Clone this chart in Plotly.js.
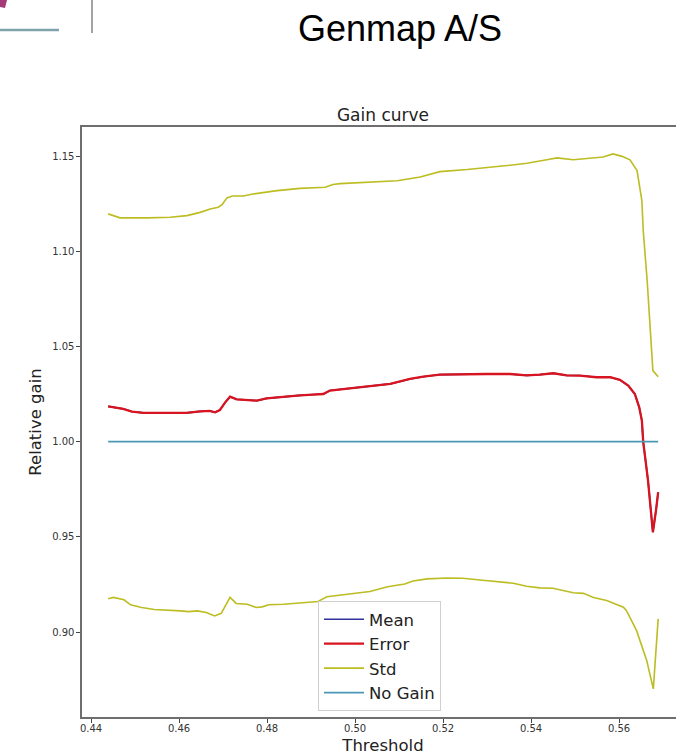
<!DOCTYPE html>
<html>
<head>
<meta charset="utf-8">
<script src="https://cdn.plot.ly/plotly-3.0.1.min.js"></script>
<style>
  html, body { margin: 0; padding: 0; overflow: hidden; background: #fff; }
  #chart { width: 690px; height: 755px; }
</style>
</head>
<body>
<div id="chart"></div>
<script>
// ---- Data ----
const meanThreshold = [0.4439,0.4473,0.4493,0.4519,0.4572,0.4617,0.4648,0.4670,0.4682,0.4693,0.4705,0.4716,0.4731,0.4754,0.4777,0.4799,0.4822,0.4845,0.4875,0.4905,0.4928,0.4943,0.4981,0.5019,0.5053,0.5080,0.5125,0.5155,0.5193,0.5246,0.5299,0.5352,0.5390,0.5420,0.5451,0.5481,0.5511,0.5549,0.5580,0.5602,0.5621,0.5636,0.5646,0.5652,0.5655,0.5666,0.5677,0.5684,0.5689];
const meanGain = [1.0185,1.0172,1.0158,1.0151,1.0151,1.0151,1.0159,1.0161,1.0154,1.0166,1.0206,1.0236,1.0222,1.0219,1.0215,1.0227,1.0233,1.0236,1.0243,1.0247,1.0250,1.0268,1.0278,1.0289,1.0299,1.0303,1.0329,1.0341,1.0352,1.0355,1.0355,1.0355,1.0348,1.0352,1.0359,1.0348,1.0347,1.0338,1.0338,1.0324,1.0294,1.0250,1.0180,1.0110,1.0000,0.9795,0.9524,0.9637,0.9734];
const errorGain = [1.0185,1.0172,1.0158,1.0151,1.0151,1.0151,1.0159,1.0161,1.0154,1.0166,1.0206,1.0236,1.0222,1.0219,1.0215,1.0227,1.0233,1.0236,1.0243,1.0247,1.0250,1.0268,1.0278,1.0289,1.0299,1.0303,1.0329,1.0341,1.0352,1.0355,1.0355,1.0355,1.0348,1.0352,1.0359,1.0348,1.0347,1.0338,1.0338,1.0324,1.0294,1.0250,1.0180,1.0110,1.0000,0.9795,0.9524,0.9637,0.9734];

const stdUpperThreshold = [0.4439,0.4466,0.4530,0.4580,0.4618,0.4648,0.4671,0.4689,0.4698,0.4709,0.4721,0.4746,0.4768,0.4823,0.4875,0.4932,0.4950,0.4966,0.5096,0.5148,0.5193,0.5255,0.5346,0.5391,0.5436,0.5459,0.5496,0.5518,0.5541,0.5564,0.5586,0.5607,0.5625,0.5641,0.5652,0.5655,0.5664,0.5671,0.5677,0.5689];
const stdUpper = [1.1196,1.1175,1.1175,1.1178,1.1187,1.1204,1.1222,1.1231,1.1245,1.1280,1.1290,1.1290,1.1300,1.1318,1.1330,1.1336,1.1350,1.1355,1.1370,1.1390,1.1418,1.1429,1.1450,1.1462,1.1480,1.1490,1.1480,1.1485,1.1493,1.1495,1.1511,1.1498,1.1480,1.1423,1.1266,1.1110,1.0846,1.0580,1.0373,1.0341];

const stdLowerThreshold = [0.4439,0.4451,0.4475,0.4490,0.4515,0.4544,0.4603,0.4622,0.4642,0.4662,0.4681,0.4696,0.4716,0.4730,0.4755,0.4775,0.4789,0.4804,0.4838,0.4877,0.4916,0.4936,0.4975,0.5005,0.5034,0.5074,0.5113,0.5132,0.5164,0.5209,0.5245,0.5290,0.5330,0.5360,0.5390,0.5420,0.5450,0.5496,0.5519,0.5542,0.5572,0.5610,0.5617,0.5640,0.5663,0.5678,0.5689];
const stdLower = [0.9175,0.9182,0.9169,0.9143,0.9129,0.9118,0.9111,0.9107,0.9111,0.9102,0.9084,0.9098,0.9182,0.9150,0.9146,0.9129,0.9132,0.9143,0.9146,0.9153,0.9160,0.9185,0.9196,0.9208,0.9213,0.9238,0.9252,0.9268,0.9279,0.9284,0.9282,0.9272,0.9261,0.9256,0.9240,0.9232,0.9230,0.9206,0.9203,0.9181,0.9165,0.9130,0.9112,0.9007,0.8850,0.8701,0.9069];

const noGainThreshold = [0.4439, 0.5689];
const noGain = [1.0, 1.0];

const yTicks = [0.90, 0.95, 1.00, 1.05, 1.10, 1.15];
const xTicks = [0.44, 0.46, 0.48, 0.50, 0.52, 0.54, 0.56];

// ---- Layout geometry ----
const W = 690, H = 755;
const M = {l: 82, r: 6, t: 127, b: 38};
const PW = W - M.l - M.r, PH = H - M.t - M.b;
const px = x => (x - M.l) / PW;
const py = y => (H - M.b - y) / PH;

const FONT = 'DejaVu Sans, sans-serif';
const STD = '#bcbd22';

const traces = [
  {x: meanThreshold, y: meanGain, name: 'Mean', mode: 'lines',
   line: {color: '#32329a', width: 1.6}},
  {x: meanThreshold, y: errorGain, name: 'Error', mode: 'lines',
   line: {color: '#d7141f', width: 2.3}},
  {x: stdUpperThreshold, y: stdUpper, name: 'Std', mode: 'lines', legendgroup: 'std',
   line: {color: STD, width: 1.6}},
  {x: stdLowerThreshold, y: stdLower, name: 'Std', mode: 'lines', legendgroup: 'std', showlegend: false,
   line: {color: STD, width: 1.6}},
  {x: noGainThreshold, y: noGain, name: 'No Gain', mode: 'lines',
   line: {color: '#4a98b5', width: 1.6}}
];

const layout = {
  width: W, height: H,
  margin: M,
  paper_bgcolor: '#fff', plot_bgcolor: '#fff',
  font: {family: FONT, color: '#222'},
  showlegend: true,
  title: {text: 'Gain curve', font: {family: FONT, size: 17, color: '#222'},
          x: 0.5, xref: 'paper', xanchor: 'center', y: 1, yref: 'paper', yanchor: 'bottom', pad: {b: 6}},
  xaxis: {
    range: [0.44 - 9/4400, 0.44 + (684-91)/4400],
    tickvals: xTicks, tickformat: '.2f',
    ticks: 'outside', ticklen: 4, tickcolor: '#444', tickwidth: 1,
    ticklabelstandoff: -3,
    tickfont: {family: FONT, size: 10, color: '#333'},
    showgrid: false, zeroline: false,
    showline: true, linecolor: '#6e6e6e', linewidth: 1.6, mirror: true,
    title: {text: 'Threshold', font: {family: FONT, size: 16.5, color: '#222'}, standoff: 8}
  },
  yaxis: {
    range: [0.90 - 85/1904, 1.15 + 29/1904],
    tickvals: yTicks, tickformat: '.2f',
    ticks: 'outside', ticklen: 4, tickcolor: '#444', tickwidth: 1,
    tickfont: {family: FONT, size: 10, color: '#333'},
    showgrid: false, zeroline: false,
    showline: true, linecolor: '#6e6e6e', linewidth: 1.6, mirror: true,
    title: {text: 'Relative gain', font: {family: FONT, size: 16.5, color: '#222'}, standoff: 6}
  },
  legend: {
    x: px(318), y: py(601), xanchor: 'left', yanchor: 'top',
    bgcolor: 'rgba(255,255,255,0.85)', bordercolor: '#d0d0d0', borderwidth: 1,
    font: {family: FONT, size: 16.5, color: '#222'},
    itemwidth: 40, traceorder: 'normal'
  },
  annotations: [
    {text: 'Genmap A/S', xref: 'paper', yref: 'paper', x: px(400), y: py(28),
     xanchor: 'center', yanchor: 'middle', showarrow: false,
     font: {family: 'Liberation Sans, Arial, sans-serif', size: 36, color: '#000'}}
  ],
  shapes: [
    {type: 'line', xref: 'paper', yref: 'paper', x0: px(0), x1: px(59), y0: py(30), y1: py(30),
     line: {color: '#7fa3ab', width: 2.5}},
    {type: 'line', xref: 'paper', yref: 'paper', x0: px(92), x1: px(92), y0: py(0), y1: py(33),
     line: {color: '#858585', width: 1.5}},
    {type: 'path', xref: 'paper', yref: 'paper',
     path: 'M' + px(0) + ',' + py(0) + ' L' + px(7) + ',' + py(0) + ' L' + px(5) + ',' + py(8) + ' L' + px(0) + ',' + py(7) + ' Z',
     fillcolor: '#a63a78', line: {width: 0}}
  ]
};

Plotly.newPlot('chart', traces, layout, {displayModeBar: false, staticPlot: true});
</script>
</body>
</html>
